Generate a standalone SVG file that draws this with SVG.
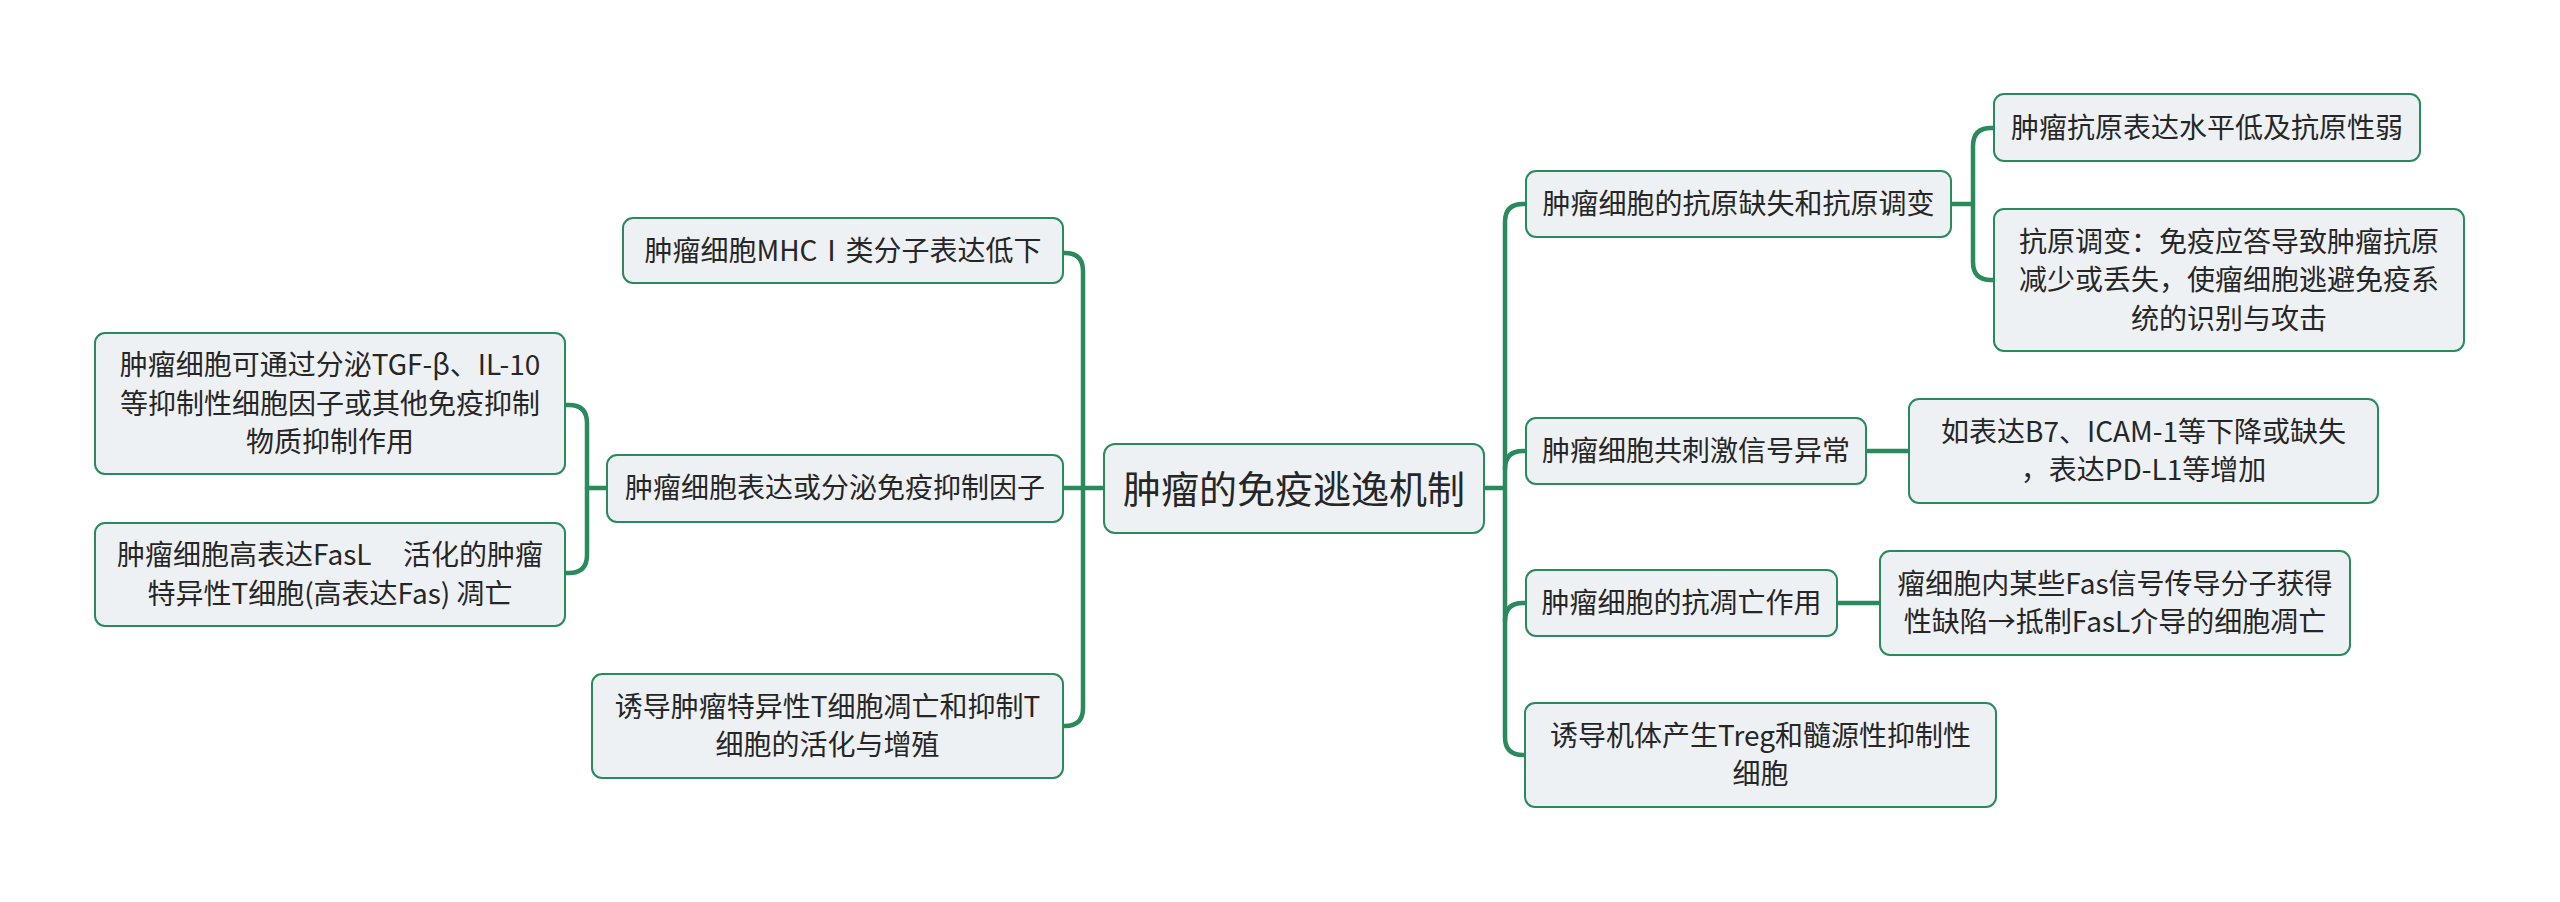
<svg xmlns="http://www.w3.org/2000/svg" width="2560" height="902" viewBox="0 0 2560 902">
<style>
.box{fill:#eef1f4;stroke:#2b8a5c;stroke-width:2}
.t{font-family:"Noto Sans CJK SC","Noto Sans",sans-serif;font-size:28px;fill:#262626;text-anchor:middle}
.c{font-size:38px}
.ln{fill:none;stroke:#2b8a5c;stroke-width:4.5;stroke-linecap:round}
</style>
<rect width="2560" height="902" fill="#ffffff"/>
<g id="connectors">
<path class="ln" d="M1063,253 H1065 Q1083,253 1083,271 V708 Q1083,726 1065,726 H1063"/>
<path class="ln" d="M1063,488 H1104"/>
<path class="ln" d="M565,405 H569 Q587,405 587,423 V555 Q587,573 569,573 H565"/>
<path class="ln" d="M587,488 H607"/>
<path class="ln" d="M1526,204 H1523 Q1505,204 1505,222 V737 Q1505,755 1523,755 H1525"/>
<path class="ln" d="M1484,488 H1505"/>
<path class="ln" d="M1505,469 Q1505,451 1523,451 H1526"/>
<path class="ln" d="M1505,621 Q1505,603 1523,603 H1526"/>
<path class="ln" d="M1994,128 H1991 Q1973,128 1973,146 V262 Q1973,280 1991,280 H1994"/>
<path class="ln" d="M1951,204 H1973"/>
<path class="ln" d="M1866,451 H1909"/>
<path class="ln" d="M1837,603 H1880"/>
</g>
<g id="center">
<rect class="box" x="1104" y="444" width="380" height="89" rx="11"/>
<text class="t c" x="1294" y="503">肿瘤的免疫逃逸机制</text>
</g>
<g id="L1">
<rect class="box" x="623" y="218" width="440" height="65" rx="10"/>
<text class="t" x="843" y="261">肿瘤细胞MHCⅠ类分子表达低下</text>
</g>
<g id="L2">
<rect class="box" x="607" y="455" width="456" height="67" rx="10"/>
<text class="t" x="835" y="498">肿瘤细胞表达或分泌免疫抑制因子</text>
</g>
<g id="L2a">
<rect class="box" x="95" y="333" width="470" height="141" rx="10"/>
<text class="t" x="330" y="375">肿瘤细胞可通过分泌TGF-β、IL-10</text>
<text class="t" x="330" y="413.5">等抑制性细胞因子或其他免疫抑制</text>
<text class="t" x="330" y="452">物质抑制作用</text>
</g>
<g id="L2b">
<rect class="box" x="95" y="523" width="470" height="103" rx="10"/>
<text class="t" x="330" y="565" xml:space="preserve">肿瘤细胞高表达FasL     活化的肿瘤</text>
<text class="t" x="330" y="603.5">特异性T细胞(高表达Fas) 凋亡</text>
</g>
<g id="L3">
<rect class="box" x="592" y="674" width="471" height="104" rx="10"/>
<text class="t" x="827.5" y="716.5">诱导肿瘤特异性T细胞凋亡和抑制T</text>
<text class="t" x="827.5" y="755">细胞的活化与增殖</text>
</g>
<g id="R1">
<rect class="box" x="1526" y="171" width="425" height="66" rx="10"/>
<text class="t" x="1738.5" y="214">肿瘤细胞的抗原缺失和抗原调变</text>
</g>
<g id="R1a">
<rect class="box" x="1994" y="94" width="426" height="67" rx="10"/>
<text class="t" x="2207" y="137.5">肿瘤抗原表达水平低及抗原性弱</text>
</g>
<g id="R1b">
<rect class="box" x="1994" y="209" width="470" height="142" rx="10"/>
<text class="t" x="2229" y="251.5">抗原调变：免疫应答导致肿瘤抗原</text>
<text class="t" x="2229" y="290">减少或丢失，使瘤细胞逃避免疫系</text>
<text class="t" x="2229" y="328.5">统的识别与攻击</text>
</g>
<g id="R2">
<rect class="box" x="1526" y="418" width="340" height="66" rx="10"/>
<text class="t" x="1696" y="461">肿瘤细胞共刺激信号异常</text>
</g>
<g id="R2a">
<rect class="box" x="1909" y="399" width="469" height="104" rx="10"/>
<text class="t" x="2143.5" y="441.5">如表达B7、ICAM-1等下降或缺失</text>
<text class="t" x="2143.5" y="480">，表达PD-L1等增加</text>
</g>
<g id="R3">
<rect class="box" x="1526" y="570" width="311" height="66" rx="10"/>
<text class="t" x="1681.5" y="613">肿瘤细胞的抗凋亡作用</text>
</g>
<g id="R3a">
<rect class="box" x="1880" y="551" width="470" height="104" rx="10"/>
<text class="t" x="2115" y="593.5">瘤细胞内某些Fas信号传导分子获得</text>
<text class="t" x="2115" y="632">性缺陷→抵制FasL介导的细胞凋亡</text>
</g>
<g id="R4">
<rect class="box" x="1525" y="703" width="471" height="104" rx="10"/>
<text class="t" x="1760.5" y="745.5">诱导机体产生Treg和髓源性抑制性</text>
<text class="t" x="1760.5" y="784">细胞</text>
</g>
</svg>
